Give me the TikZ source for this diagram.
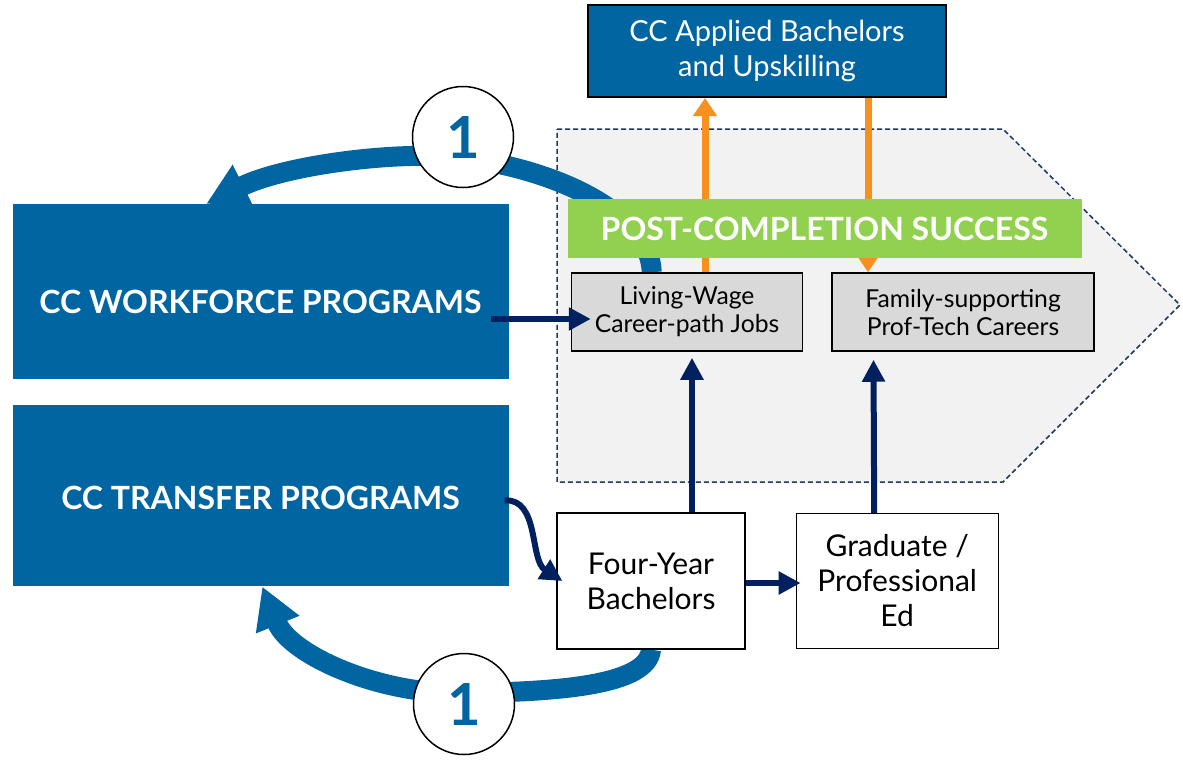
\documentclass[tikz,border=0pt]{standalone}
\usepackage{fontspec}
\setmainfont{Lato}
\usepackage{tikz}
\usetikzlibrary{arrows.meta, backgrounds, positioning}

\definecolor{ccblue}{RGB}{0,101,161}
\definecolor{navy}{RGB}{0,32,96}
\definecolor{dashnavy}{RGB}{31,56,100}
\definecolor{ccorange}{RGB}{247,144,30}
\definecolor{ccgreen}{RGB}{146,208,80}
\definecolor{zonegray}{RGB}{242,242,242}
\definecolor{boxgray}{RGB}{217,217,217}

\begin{document}
\begin{tikzpicture}[x=1pt, y=-1pt]
    % Styles
    \tikzstyle{program} = [rectangle, fill=ccblue, text=white, minimum width=496pt, font=\bfseries\fontsize{32}{38}\selectfont, text depth=0pt]
    \tikzstyle{outcome} = [rectangle, draw=black, line width=1.5pt, fill=boxgray, align=center, minimum height=78pt, font=\fontsize{24.7}{28}\selectfont]
    \tikzstyle{degree} = [rectangle, draw=black, line width=1.2pt, fill=white, align=center, font=\fontsize{30}{35}\selectfont]
    \tikzstyle{badge} = [circle, draw=black, line width=1.5pt, fill=white, minimum size=101pt, inner sep=0pt, text=ccblue, font=\bfseries\fontsize{58}{58}\selectfont]
    \tikzstyle{navyarrow} = [color=navy, line width=6pt, -{Triangle[length=22pt, width=22pt]}]
    \tikzstyle{orangearrow} = [color=ccorange, line width=7pt, -{Triangle[length=18pt, width=23pt]}]
    \tikzstyle{looparrow} = [color=ccblue, line width=20pt, -{Triangle[length=41pt, width=44pt]}]

    \useasboundingbox (0,0) rectangle (1183,761);

    % Nodes
    \node (wf) [program, minimum height=175pt, text height=43pt] at (260.5,291.5) {CC WORKFORCE PROGRAMS};
    \node (tr) [program, minimum height=181pt, text height=28pt, below=26pt of wf] {CC TRANSFER PROGRAMS};
    \node (app) [rectangle, draw=black, line width=2pt, fill=ccblue, text=white, align=center, minimum width=358pt, minimum height=92pt, font=\fontsize{29}{35}\selectfont] at (767,51) {CC Applied Bachelors\\and Upskilling};
    \node (post) [rectangle, fill=ccgreen, text=white, minimum width=514pt, minimum height=59pt, font=\bfseries\fontsize{32}{38}\selectfont] at (824.5,228.5) {POST-COMPLETION SUCCESS};
    \node (lw) [outcome, minimum width=231pt] at (687,312) {Living-Wage\\Career-path Jobs};
    \node (fam) [outcome, minimum width=262pt, right=28pt of lw] {Family-supporting\\Prof-Tech Careers};
    \node (four) [degree, minimum width=188pt, minimum height=136pt] at (651,581) {Four-Year\\Bachelors};
    \node (grad) [degree, minimum width=202pt, minimum height=135pt, right=50pt of four] {Graduate /\\Professional\\Ed};
    \node (onetop) [badge] at (463,137) {1};
    \node (onebot) [badge] at (464,704) {1};

    \coordinate (upfoot) at ([xshift=18pt]lw.north);
    \coordinate (downtop) at ([xshift=101pt]app.south);

    % Background: zone, loops and orange arrows
    \begin{scope}[on background layer]
        \draw [draw=dashnavy, fill=zonegray, line width=1.5pt, dash pattern=on 5pt off 3pt] (557,129) -- (1003,129) -- (1180,305) -- (1003,482) -- (557,482) -- cycle;
        \draw [looparrow] ([xshift=81pt]lw.north west) .. controls (650,215) and (560,170) .. (463,158) .. controls (400,150) and (285,165) .. ([xshift=194pt]wf.north west);
        \draw [looparrow] (four.south) .. controls (648,685) and (560,692) .. (463,693) .. controls (380,695) and (290,655) .. ([xshift=250pt]tr.south west);
        \draw [orangearrow] (upfoot) -- (upfoot |- app.south);
        \draw [orangearrow] (downtop) -- (downtop |- fam.north);
    \end{scope}

    % Arrows
    \draw [navyarrow] ([xshift=-18pt, yshift=-27.5pt]wf.east) -- ([xshift=20pt, yshift=-7pt]lw.west);
    \draw [navyarrow] ([xshift=-4pt, yshift=-4.5pt]tr.east) .. controls +(35,-2) and +(-33,-21) .. ([xshift=6pt]four.west);
    \draw [navyarrow] ([yshift=-2pt]four.east) -- ([xshift=5pt, yshift=-2pt]grad.west);
    \draw [navyarrow] ([xshift=41pt]four.north) -- ([xshift=5pt, yshift=-6pt]lw.south);
    \draw [navyarrow] ([xshift=-23pt]grad.north) -- ([xshift=-89.5pt, yshift=-8pt]fam.south);
\end{tikzpicture}
\end{document}
